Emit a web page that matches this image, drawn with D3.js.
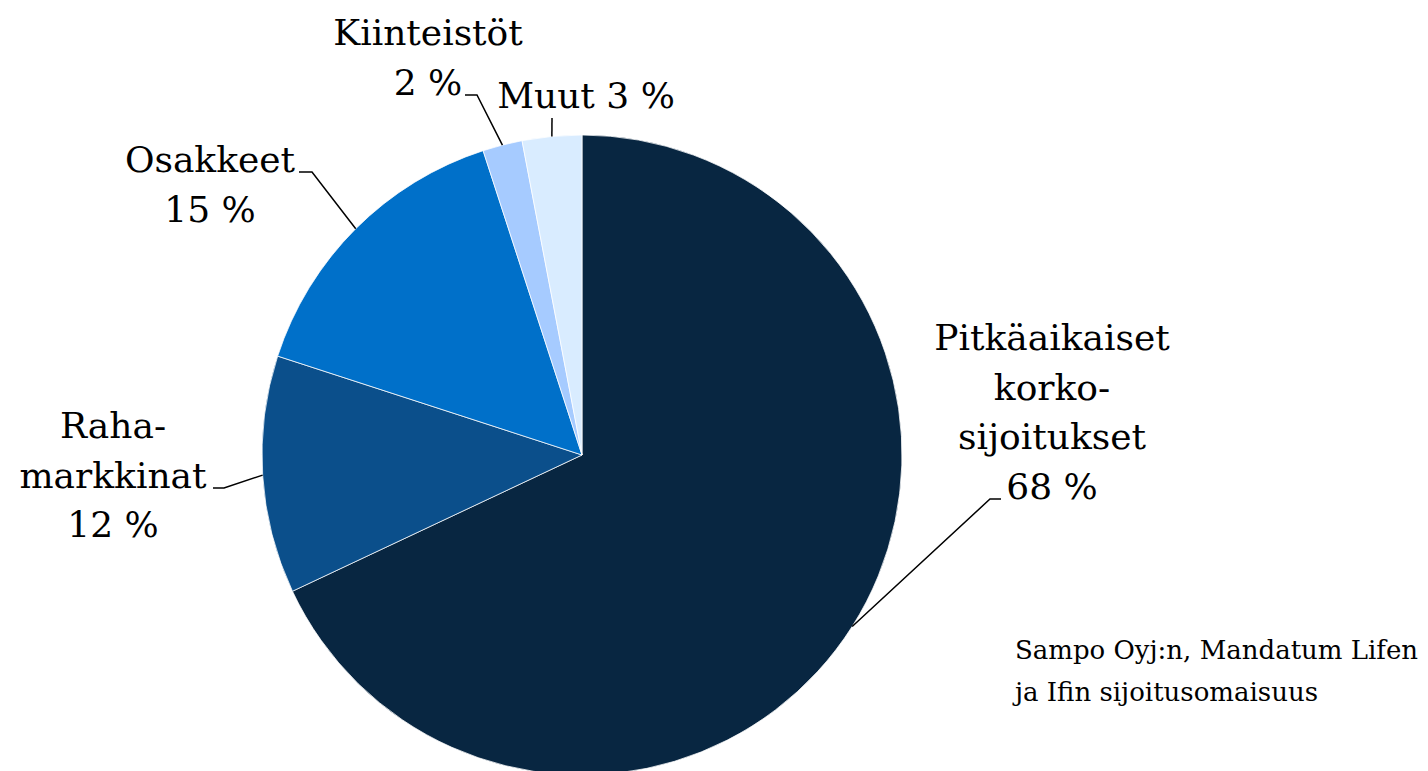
<!DOCTYPE html>
<html>
<head>
<meta charset="utf-8">
<script src="https://cdn.jsdelivr.net/npm/d3@7"></script>
<style>
  html, body { margin: 0; padding: 0; background: #fff; }
  svg text { font-family: 'DejaVu Serif', 'Liberation Serif', serif; fill: #000; }
</style>
</head>
<body>
<div id="chart"></div>
<script>
const WIDTH = 1428;
const HEIGHT = 771;
const CX = 582;
const CY = 455;
const RADIUS = 320;
const LABEL_SIZE = 36;
const LINE_HEIGHT = 49.5;

// data
const categories = ['Pitkäaikaiset korkosijoitukset', 'Rahamarkkinat', 'Osakkeet', 'Kiinteistöt', 'Muut'];
const shares = [68, 12, 15, 2, 3];
const labelLines = [
  ['Pitkäaikaiset', 'korko-', 'sijoitukset'],
  ['Raha-', 'markkinat'],
  ['Osakkeet'],
  ['Kiinteistöt'],
  ['Muut']
];
const sliceColors = ['#082641', '#0b4f8b', '#0070c9', '#a6cbff', '#d9ecff'];
const footnoteLines = ['Sampo Oyj:n, Mandatum Lifen', 'ja Ifin sijoitusomaisuus'];

// label placement: text centre, first baseline, leader elbow and end
const labelLayout = [
  { x: 1052, y: 350, elbow: [990, 499], end: [1001, 499], inline: false },
  { x: 113, y: 438, elbow: [224, 488], end: [213, 488], inline: false },
  { x: 210, y: 172, elbow: [312, 172], end: [299, 172], inline: false },
  { x: 428, y: 45, elbow: [477, 95], end: [465, 95], inline: false },
  { x: 586, y: 108, elbow: null, end: [552, 118], inline: true }
];

let svg = d3.select('#chart').append('svg')
  .attr('width', WIDTH)
  .attr('height', HEIGHT);

let pieData = d3.pie()
  .sort(null)
  .value((d) => d.value)(shares.map((v, i) => ({ value: v, index: i })));

let arc = d3.arc()
  .innerRadius(0)
  .outerRadius(RADIUS);

let pieGroup = svg.append('g')
  .attr('transform', `translate(${CX}, ${CY})`);

pieGroup.selectAll('path')
  .data(pieData)
  .enter()
  .append('path')
  .attr('d', arc)
  .attr('fill', (d) => sliceColors[d.data.index])
  .attr('stroke', '#fff')
  .attr('stroke-width', 0.75);

// leader lines
function edgePoint(d) {
  let mid = (d.startAngle + d.endAngle) / 2;
  return [CX + RADIUS * Math.sin(mid), CY - RADIUS * Math.cos(mid)];
}

let lineGroup = svg.append('g');
pieData.forEach((d, i) => {
  let layout = labelLayout[i];
  let pts = [edgePoint(d)];
  if (layout.elbow) pts.push(layout.elbow);
  pts.push(layout.end);
  lineGroup.append('path')
    .attr('d', d3.line()(pts))
    .attr('fill', 'none')
    .attr('stroke', '#000')
    .attr('stroke-width', 1.5);
});

// labels
let labelGroup = svg.append('g');
pieData.forEach((d, i) => {
  let layout = labelLayout[i];
  let pct = `${shares[i]} %`;
  let lines = layout.inline
    ? [labelLines[i][0] + ' ' + pct]
    : labelLines[i].concat([pct]);
  let text = labelGroup.append('text')
    .attr('text-anchor', 'middle')
    .attr('font-size', LABEL_SIZE);
  lines.forEach((line, j) => {
    text.append('tspan')
      .attr('x', layout.x)
      .attr('y', layout.y + j * LINE_HEIGHT)
      .text(line);
  });
});

// footnote
let note = svg.append('text')
  .attr('font-size', 26);
footnoteLines.forEach((line, j) => {
  note.append('tspan')
    .attr('x', 1015)
    .attr('y', 659 + j * 42)
    .text(line);
});
</script>
</body>
</html>
